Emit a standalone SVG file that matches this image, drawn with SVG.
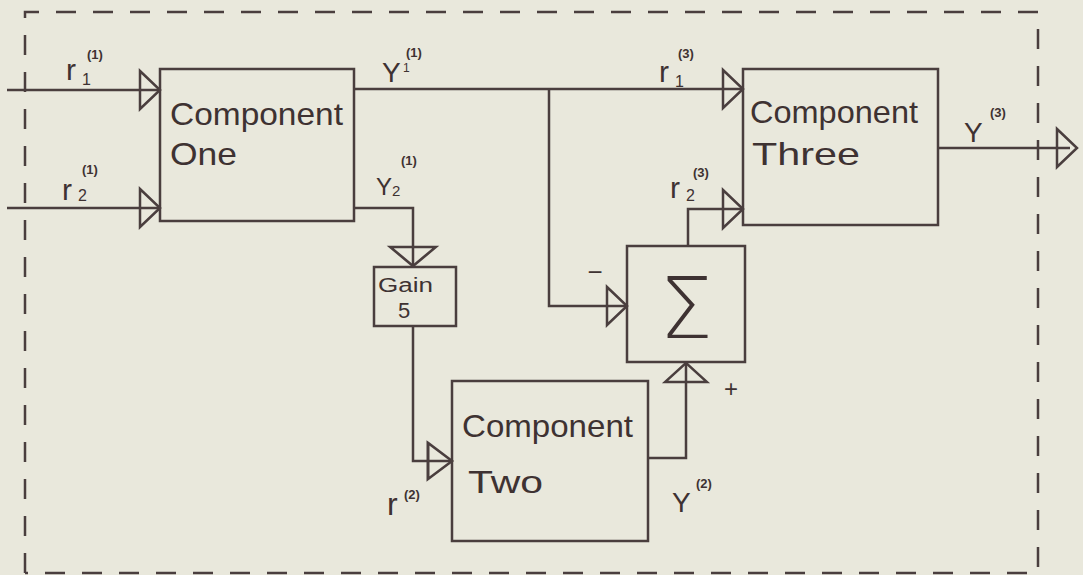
<svg xmlns="http://www.w3.org/2000/svg" xmlns:xlink="http://www.w3.org/1999/xlink" width="1083" height="575" viewBox="0 0 1083 575">
<style>
.ln{fill:none;stroke:#4a3e3e;stroke-width:2.5;stroke-linejoin:miter}
.box{fill:none;stroke:#4a3e3e;stroke-width:2.5}
.frame{fill:none;stroke:#4a3e3e;stroke-width:2.5;stroke-dasharray:20 17}
.ah{fill:none;stroke:#4a3e3e;stroke-width:2.5;stroke-linejoin:miter}
.t{font-family:"Liberation Sans",Arial,sans-serif;fill:#3e3232}
.big{font-size:32px}
.lbl{font-size:30px}
.sub{font-size:16px}
.sup{font-size:13px;font-weight:bold}
</style>
<defs>
<polygon id="triR" points="-20,-19 0,0 -20,19"/>
</defs>
<rect x="0" y="0" width="1083" height="575" fill="#e9e8dc"/>
<path class="frame" d="M25,573 L25,12 L1038,12 L1038,573 L25,573"/>

<g id="connectors">
<path class="ln" d="M7,90 H160"/>
<path class="ln" d="M7,208 H160"/>
<path class="ln" d="M354,89 H743"/>
<path class="ln" d="M549,89 V306 H627"/>
<path class="ln" d="M354,208 H413 V266"/>
<path class="ln" d="M413,326 V461 H452"/>
<path class="ln" d="M648,458 H686 V363"/>
<path class="ln" d="M688,246 V209 H743"/>
<path class="ln" d="M938,148 H1070"/>
<use href="#triR" class="ah" transform="translate(160,90)"/>
<use href="#triR" class="ah" transform="translate(160,208)"/>
<use href="#triR" class="ah" transform="translate(743,89)"/>
<use href="#triR" class="ah" transform="translate(743,209)"/>
<use href="#triR" class="ah" transform="translate(627,306)"/>
<use href="#triR" class="ah" transform="translate(1077,148)"/>
<use href="#triR" class="ah" transform="translate(452,461) scale(1.2,0.95)"/>
<use href="#triR" class="ah" transform="translate(413,266) rotate(90) scale(0.95,1.2)"/>
<use href="#triR" class="ah" transform="translate(686,363) rotate(-90) scale(0.95,1.1)"/>
</g>

<g id="labels">
<text class="t lbl" x="66" y="80">r</text><text class="t sub" x="82" y="85">1</text><text class="t sup" x="87" y="59">(1)</text>
<text class="t lbl" x="62" y="200">r</text><text class="t sub" x="78" y="201">2</text><text class="t sup" x="82" y="174">(1)</text>
<text class="t" x="382" y="82" font-size="28">Y</text><text class="t" x="403" y="72" font-size="12">1</text><text class="t sup" x="406" y="57">(1)</text>
<text class="t" x="376" y="195" font-size="24">Y</text><text class="t" x="392" y="196" font-size="15">2</text><text class="t sup" x="401" y="165">(1)</text>
<text class="t lbl" x="659" y="82">r</text><text class="t sub" x="675" y="87">1</text><text class="t sup" x="678" y="58">(3)</text>
<text class="t lbl" x="670" y="198">r</text><text class="t sub" x="686" y="201">2</text><text class="t sup" x="693" y="177">(3)</text>
<text class="t" x="595" y="281" font-size="26" text-anchor="middle">−</text>
<text class="t" x="731" y="397" font-size="24" text-anchor="middle">+</text>
<text class="t" x="964" y="142" font-size="28">Y</text><text class="t sup" x="990" y="117" font-size="14">(3)</text>
<text class="t" x="387" y="515" font-size="32">r</text><text class="t sup" x="404" y="499" font-size="14">(2)</text>
<text class="t" x="672" y="512" font-size="28">Y</text><text class="t sup" x="696" y="488" font-size="14">(2)</text>
</g>

<g id="component-one">
<rect class="box" x="160" y="69" width="194" height="152"/>
<text class="t big" x="170" y="125" textLength="173" lengthAdjust="spacingAndGlyphs">Component</text>
<text class="t big" x="170" y="165" textLength="67" lengthAdjust="spacingAndGlyphs">One</text>
</g>

<g id="component-three">
<rect class="box" x="743" y="69" width="195" height="156"/>
<text class="t big" x="750" y="123" textLength="168" lengthAdjust="spacingAndGlyphs">Component</text>
<text class="t big" x="752" y="165" textLength="108" lengthAdjust="spacingAndGlyphs">Three</text>
</g>

<g id="gain">
<rect class="box" x="374" y="267" width="82" height="59"/>
<text class="t" x="378" y="292" font-size="20" textLength="55" lengthAdjust="spacingAndGlyphs">Gain</text>
<text class="t" x="398" y="318" font-size="22">5</text>
</g>

<g id="sum">
<rect class="box" x="627" y="246" width="118" height="116"/>
<text x="686" y="338" font-size="85" text-anchor="middle" font-family="'DejaVu Sans', sans-serif" font-weight="200" fill="#3e3232">Σ</text>
</g>

<g id="component-two">
<rect class="box" x="452" y="381" width="196" height="160"/>
<text class="t big" x="462" y="437" textLength="171" lengthAdjust="spacingAndGlyphs">Component</text>
<text class="t big" x="468" y="493" textLength="75" lengthAdjust="spacingAndGlyphs">Two</text>
</g>
</svg>
